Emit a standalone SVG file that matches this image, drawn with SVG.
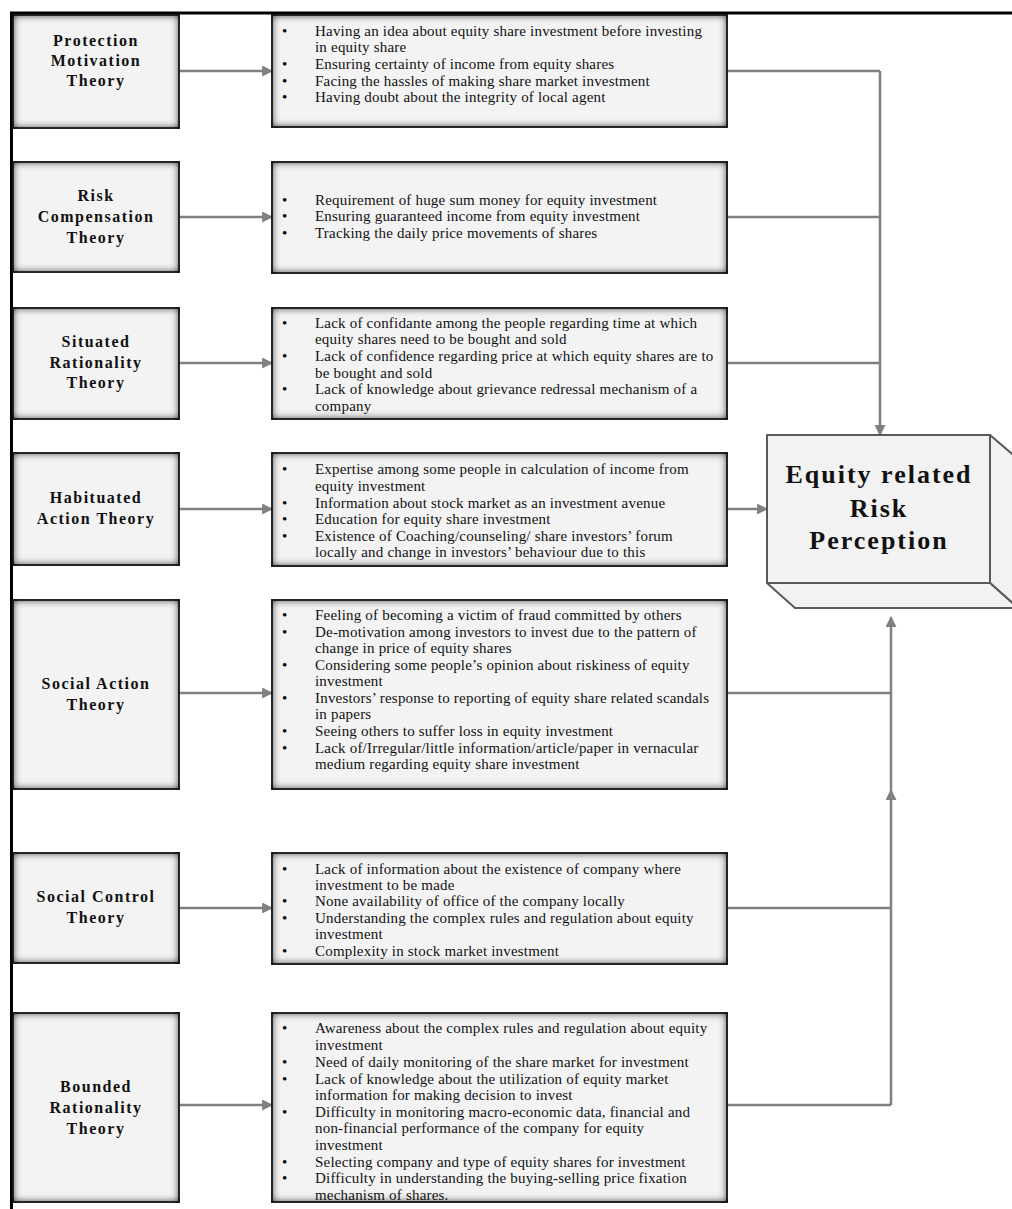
<svg xmlns="http://www.w3.org/2000/svg" width="1012" height="1209" viewBox="0 0 1012 1209">
<defs>
<style>
.box{fill:#f3f3f3;stroke:#2b2b2b;stroke-width:1.8}
.lbl{font-family:"Liberation Serif","Times New Roman",serif;font-weight:bold;font-size:16px;letter-spacing:1.5px;fill:#111;text-anchor:middle}
.it{font-family:"Liberation Serif","Times New Roman",serif;font-size:15px;letter-spacing:0.2px;fill:#111}
.bul{font-family:"Liberation Serif","Times New Roman",serif;font-size:15px;fill:#000}
.big{font-family:"Liberation Serif","Times New Roman",serif;font-weight:bold;font-size:26px;letter-spacing:2px;fill:#111;text-anchor:middle}
.con{stroke:#808080;stroke-width:2.5;fill:none}
.arr{stroke:#808080;stroke-width:2.5;fill:none;marker-end:url(#ah)}
.cube{fill:#f2f2f2;stroke:#5a5a5a;stroke-width:2;stroke-linejoin:round}
</style>
<filter id="inner" x="-20%" y="-20%" width="140%" height="140%" color-interpolation-filters="sRGB">
<feFlood flood-color="#000000" flood-opacity="1" result="f"/>
<feComposite in="f" in2="SourceAlpha" operator="out" result="o"/>
<feGaussianBlur in="o" stdDeviation="4.5" result="b"/>
<feComposite in="b" in2="SourceAlpha" operator="in" result="s"/>
<feMerge><feMergeNode in="SourceGraphic"/><feMergeNode in="s"/></feMerge>
</filter>
<marker id="ah" viewBox="0 0 10 10" refX="9" refY="5" markerWidth="11" markerHeight="11" markerUnits="userSpaceOnUse" orient="auto"><path d="M0,0 L10,5 L0,10 z" fill="#808080"/></marker>
</defs>
<rect width="1012" height="1209" fill="#fff"/>
<g id="frame">
<path d="M11.5,1209 V13 H1012" fill="none" stroke="#000" stroke-width="3"/>
</g>
<g id="connectors">
<path class="arr" d="M179,71 H272"/>
<path class="arr" d="M179,217 H272"/>
<path class="arr" d="M179,363 H272"/>
<path class="arr" d="M179,509 H272"/>
<path class="arr" d="M179,693 H272"/>
<path class="arr" d="M179,908 H272"/>
<path class="arr" d="M179,1105 H272"/>
<path class="con" d="M727,71 H880 M727,217 H880 M727,363 H880"/>
<path class="arr" d="M880,71 V435"/>
<path class="arr" d="M727,509 H767"/>
<path class="con" d="M727,693 H891 M727,908 H891 M727,1105 H891"/>
<path class="arr" d="M891,1105 V790"/>
<path class="arr" d="M891,790 V617"/>
</g>
<g id="protection">
<rect class="box" filter="url(#inner)" x="13" y="15" width="166" height="113"/>
<text class="lbl"><tspan x="96" y="46">Protection</tspan><tspan x="96" y="66">Motivation</tspan><tspan x="96" y="86">Theory</tspan></text>
</g>
<g id="risk">
<rect class="box" filter="url(#inner)" x="13" y="162" width="166" height="110"/>
<text class="lbl"><tspan x="96" y="201">Risk</tspan><tspan x="96" y="222">Compensation</tspan><tspan x="96" y="243">Theory</tspan></text>
</g>
<g id="situated">
<rect class="box" filter="url(#inner)" x="13" y="308" width="166" height="111"/>
<text class="lbl"><tspan x="96" y="347">Situated</tspan><tspan x="96" y="368">Rationality</tspan><tspan x="96" y="388">Theory</tspan></text>
</g>
<g id="habituated">
<rect class="box" filter="url(#inner)" x="13" y="453" width="166" height="112"/>
<text class="lbl"><tspan x="96" y="503">Habituated</tspan><tspan x="96" y="524">Action Theory</tspan></text>
</g>
<g id="socialaction">
<rect class="box" filter="url(#inner)" x="13" y="600" width="166" height="189"/>
<text class="lbl"><tspan x="96" y="689">Social Action</tspan><tspan x="96" y="710">Theory</tspan></text>
</g>
<g id="socialcontrol">
<rect class="box" filter="url(#inner)" x="13" y="853" width="166" height="110"/>
<text class="lbl"><tspan x="96" y="902">Social Control</tspan><tspan x="96" y="923">Theory</tspan></text>
</g>
<g id="bounded">
<rect class="box" filter="url(#inner)" x="13" y="1013" width="166" height="189"/>
<text class="lbl"><tspan x="96" y="1092">Bounded</tspan><tspan x="96" y="1113">Rationality</tspan><tspan x="96" y="1134">Theory</tspan></text>
</g>
<g id="items-protection">
<rect class="box" filter="url(#inner)" x="272" y="15" width="455" height="112"/>
<text class="bul"><tspan x="282" y="36">•</tspan><tspan x="282" y="69">•</tspan><tspan x="282" y="86">•</tspan><tspan x="282" y="102">•</tspan></text>
<text class="it"><tspan x="315" y="36">Having an idea about equity share investment before investing</tspan><tspan x="315" y="52">in equity share</tspan><tspan x="315" y="69">Ensuring certainty of income from equity shares</tspan><tspan x="315" y="86">Facing the hassles of making share market investment</tspan><tspan x="315" y="102">Having doubt about the integrity of local agent</tspan></text>
</g>
<g id="items-risk">
<rect class="box" filter="url(#inner)" x="272" y="162" width="455" height="111"/>
<text class="bul"><tspan x="282" y="205">•</tspan><tspan x="282" y="221">•</tspan><tspan x="282" y="238">•</tspan></text>
<text class="it"><tspan x="315" y="205">Requirement of huge sum money for equity investment</tspan><tspan x="315" y="221">Ensuring guaranteed income from equity investment</tspan><tspan x="315" y="238">Tracking the daily price movements of shares</tspan></text>
</g>
<g id="items-situated">
<rect class="box" filter="url(#inner)" x="272" y="308" width="455" height="111"/>
<text class="bul"><tspan x="282" y="328">•</tspan><tspan x="282" y="361">•</tspan><tspan x="282" y="394">•</tspan></text>
<text class="it"><tspan x="315" y="328">Lack of confidante among the people regarding time at which</tspan><tspan x="315" y="344">equity shares need to be bought and sold</tspan><tspan x="315" y="361">Lack of confidence regarding price at which equity shares are to</tspan><tspan x="315" y="378">be bought and sold</tspan><tspan x="315" y="394">Lack of knowledge about grievance redressal mechanism of a</tspan><tspan x="315" y="411">company</tspan></text>
</g>
<g id="items-habituated">
<rect class="box" filter="url(#inner)" x="272" y="453" width="455" height="113"/>
<text class="bul"><tspan x="282" y="474">•</tspan><tspan x="282" y="508">•</tspan><tspan x="282" y="524">•</tspan><tspan x="282" y="541">•</tspan></text>
<text class="it"><tspan x="315" y="474">Expertise among some people in calculation of income from</tspan><tspan x="315" y="491">equity investment</tspan><tspan x="315" y="508">Information about stock market as an investment avenue</tspan><tspan x="315" y="524">Education for equity share investment</tspan><tspan x="315" y="541">Existence of Coaching/counseling/ share investors’ forum</tspan><tspan x="315" y="557">locally and change in investors’ behaviour due to this</tspan></text>
</g>
<g id="items-socialaction">
<rect class="box" filter="url(#inner)" x="272" y="600" width="455" height="189"/>
<text class="bul"><tspan x="282" y="620">•</tspan><tspan x="282" y="637">•</tspan><tspan x="282" y="670">•</tspan><tspan x="282" y="703">•</tspan><tspan x="282" y="736">•</tspan><tspan x="282" y="753">•</tspan></text>
<text class="it"><tspan x="315" y="620">Feeling of becoming a victim of fraud committed by others</tspan><tspan x="315" y="637">De-motivation among investors to invest due to the pattern of</tspan><tspan x="315" y="653">change in price of equity shares</tspan><tspan x="315" y="670">Considering some people’s opinion about riskiness of equity</tspan><tspan x="315" y="686">investment</tspan><tspan x="315" y="703">Investors’ response to reporting of equity share related scandals</tspan><tspan x="315" y="719">in papers</tspan><tspan x="315" y="736">Seeing others to suffer loss in equity investment</tspan><tspan x="315" y="753">Lack of/Irregular/little information/article/paper in vernacular</tspan><tspan x="315" y="769">medium regarding equity share investment</tspan></text>
</g>
<g id="items-socialcontrol">
<rect class="box" filter="url(#inner)" x="272" y="853" width="455" height="111"/>
<text class="bul"><tspan x="282" y="874">•</tspan><tspan x="282" y="906">•</tspan><tspan x="282" y="923">•</tspan><tspan x="282" y="956">•</tspan></text>
<text class="it"><tspan x="315" y="874">Lack of information about the existence of company where</tspan><tspan x="315" y="890">investment to be made</tspan><tspan x="315" y="906">None availability of office of the company locally</tspan><tspan x="315" y="923">Understanding the complex rules and regulation about equity</tspan><tspan x="315" y="939">investment</tspan><tspan x="315" y="956">Complexity in stock market investment</tspan></text>
</g>
<g id="items-bounded">
<rect class="box" filter="url(#inner)" x="272" y="1013" width="455" height="189"/>
<text class="bul"><tspan x="282" y="1033">•</tspan><tspan x="282" y="1067">•</tspan><tspan x="282" y="1084">•</tspan><tspan x="282" y="1117">•</tspan><tspan x="282" y="1167">•</tspan><tspan x="282" y="1183">•</tspan></text>
<text class="it"><tspan x="315" y="1033">Awareness about the complex rules and regulation about equity</tspan><tspan x="315" y="1050">investment</tspan><tspan x="315" y="1067">Need of daily monitoring of the share market for investment</tspan><tspan x="315" y="1084">Lack of knowledge about the utilization of equity market</tspan><tspan x="315" y="1100">information for making decision to invest</tspan><tspan x="315" y="1117">Difficulty in monitoring macro-economic data, financial and</tspan><tspan x="315" y="1133">non-financial performance of the company for equity</tspan><tspan x="315" y="1150">investment</tspan><tspan x="315" y="1167">Selecting company and type of equity shares for investment</tspan><tspan x="315" y="1183">Difficulty in understanding the buying-selling price fixation</tspan><tspan x="315" y="1200">mechanism of shares.</tspan></text>
</g>
<g id="risk-perception">
<path class="cube" d="M990,435 L1018,459 L1018,608 L990,583 Z"/>
<path class="cube" d="M767,583 L990,583 L1018,608 L795,608 Z"/>
<rect class="cube" x="767" y="435" width="223" height="148"/>
<text class="big"><tspan x="879" y="483">Equity related</tspan><tspan x="879" y="517">Risk</tspan><tspan x="879" y="549">Perception</tspan></text>
</g>
</svg>
